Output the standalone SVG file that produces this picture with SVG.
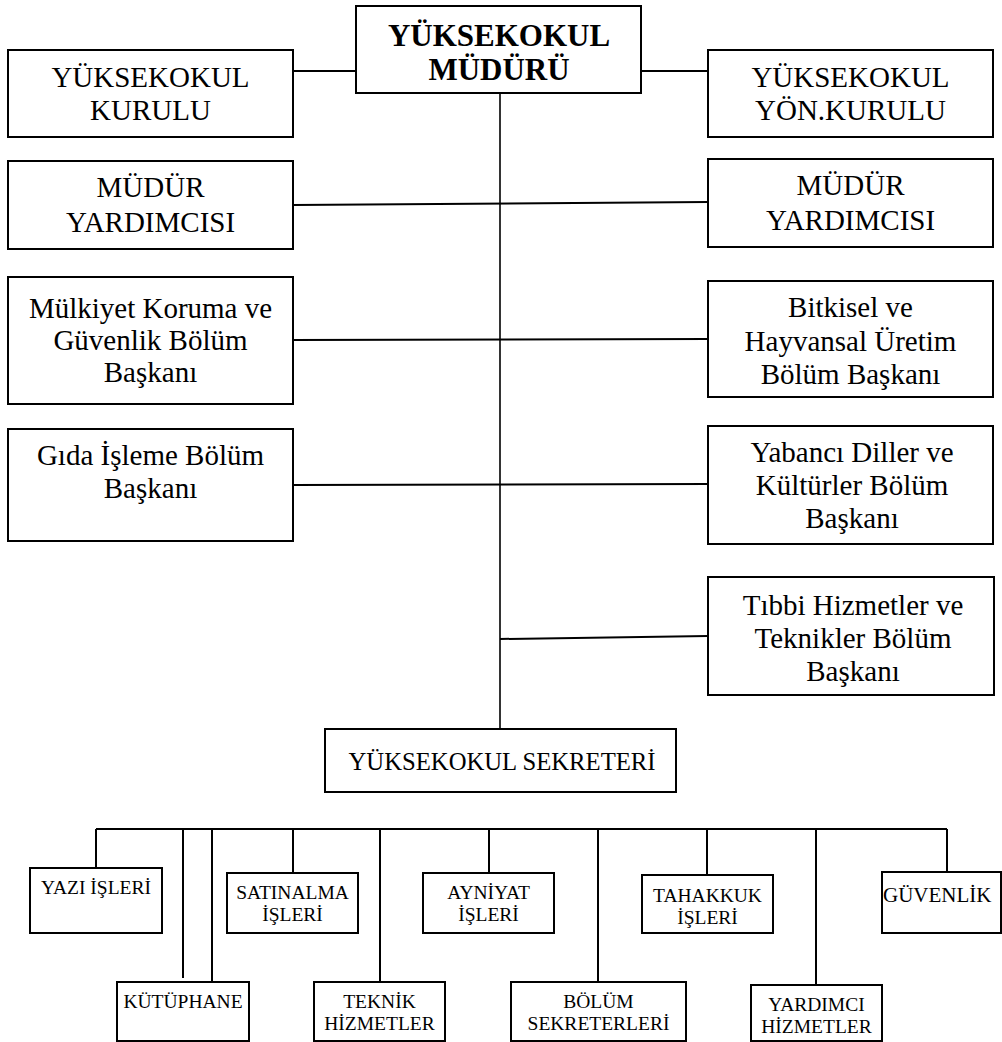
<svg xmlns="http://www.w3.org/2000/svg" width="1002" height="1042" viewBox="0 0 1002 1042">
<style>
  .box { fill: #ffffff; stroke: #000000; stroke-width: 2; }
  .ln { fill: none; stroke: #000000; stroke-width: 2; }
  .vl { fill: none; stroke: #000000; stroke-width: 1.6; }
  text { font-family: 'Liberation Serif', 'DejaVu Serif', 'Times New Roman', serif; fill: #000000; text-anchor: middle; }
  .t { font-size: 29px; }
  .tb { font-size: 31px; font-weight: bold; }
  .s { font-size: 19.5px; }
  .sek { font-size: 26px; }
  .guv { font-size: 21px; text-anchor: start; }
</style>
<rect width="1002" height="1042" fill="#ffffff"/>
<g id="connectors">
  <path class="ln" d="M293 71 H356 M641 71 H708"/>
  <path class="vl" d="M500 93 V729"/>
  <path class="ln" d="M293 205 L708 202"/>
  <path class="ln" d="M293 340 L708 339"/>
  <path class="ln" d="M293 485 L708 484"/>
  <path class="ln" d="M500 639 L708 636"/>
  <path class="ln" d="M96 829 H947"/>
  <path class="ln" d="M96 829 V868 M183 829 V978 M212 829 V982 M293 829 V873 M380 829 V982 M489 829 V873 M598 829 V982 M707 829 V875 M816 829 V985 M947 829 V872"/>
</g>
<g id="mudur">
  <rect class="box" x="356" y="6" width="285" height="87"/>
  <text class="tb" x="499" y="46">YÜKSEKOKUL</text>
  <text class="tb" x="499" y="80">MÜDÜRÜ</text>
</g>
<g id="yuksekokul-kurulu">
  <rect class="box" x="8" y="50" width="285" height="87"/>
  <text class="t" x="150.5" y="87">YÜKSEKOKUL</text>
  <text class="t" x="150.5" y="120">KURULU</text>
</g>
<g id="yon-kurulu">
  <rect class="box" x="708" y="50" width="285" height="87"/>
  <text class="t" x="850.5" y="87">YÜKSEKOKUL</text>
  <text class="t" x="850.5" y="120">YÖN.KURULU</text>
</g>
<g id="mudur-yrd-1">
  <rect class="box" x="8" y="161" width="285" height="88"/>
  <text class="t" x="150.5" y="197">MÜDÜR</text>
  <text class="t" x="150.5" y="232">YARDIMCISI</text>
</g>
<g id="mudur-yrd-2">
  <rect class="box" x="708" y="159" width="285" height="88"/>
  <text class="t" x="850.5" y="195">MÜDÜR</text>
  <text class="t" x="850.5" y="230">YARDIMCISI</text>
</g>
<g id="mulkiyet">
  <rect class="box" x="8" y="277" width="285" height="127"/>
  <text class="t" x="150.5" y="318">Mülkiyet Koruma ve</text>
  <text class="t" x="150.5" y="350">Güvenlik Bölüm</text>
  <text class="t" x="150.5" y="382">Başkanı</text>
</g>
<g id="bitkisel">
  <rect class="box" x="708" y="281" width="285" height="116"/>
  <text class="t" x="850.5" y="317">Bitkisel ve</text>
  <text class="t" x="850.5" y="351">Hayvansal Üretim</text>
  <text class="t" x="850.5" y="384">Bölüm Başkanı</text>
</g>
<g id="gida">
  <rect class="box" x="8" y="429" width="285" height="112"/>
  <text class="t" x="150.5" y="465">Gıda İşleme Bölüm</text>
  <text class="t" x="150.5" y="498">Başkanı</text>
</g>
<g id="yabanci">
  <rect class="box" x="708" y="426" width="285" height="118"/>
  <text class="t" x="852" y="462">Yabancı Diller ve</text>
  <text class="t" x="852" y="495">Kültürler Bölüm</text>
  <text class="t" x="852" y="528">Başkanı</text>
</g>
<g id="tibbi">
  <rect class="box" x="708" y="577" width="286" height="118"/>
  <text class="t" x="853" y="615">Tıbbi Hizmetler ve</text>
  <text class="t" x="853" y="648">Teknikler Bölüm</text>
  <text class="t" x="853" y="681">Başkanı</text>
</g>
<g id="sekreter">
  <rect class="box" x="325" y="729" width="351" height="63"/>
  <text class="sek" x="502" y="770" textLength="307" lengthAdjust="spacingAndGlyphs">YÜKSEKOKUL SEKRETERİ</text>
</g>
<g id="yazi-isleri">
  <rect class="box" x="30" y="868" width="132" height="65"/>
  <text class="s" x="96" y="894">YAZI İŞLERİ</text>
</g>
<g id="satinalma">
  <rect class="box" x="227" y="873" width="131" height="60"/>
  <text class="s" x="292.5" y="899">SATINALMA</text>
  <text class="s" x="292.5" y="921">İŞLERİ</text>
</g>
<g id="ayniyat">
  <rect class="box" x="423" y="873" width="131" height="60"/>
  <text class="s" x="488.5" y="899">AYNİYAT</text>
  <text class="s" x="488.5" y="921">İŞLERİ</text>
</g>
<g id="tahakkuk">
  <rect class="box" x="642" y="875" width="131" height="58"/>
  <text class="s" x="707.5" y="902">TAHAKKUK</text>
  <text class="s" x="707.5" y="924">İŞLERİ</text>
</g>
<g id="guvenlik">
  <rect class="box" x="882" y="872" width="119" height="61"/>
  <text class="guv" x="883" y="902">GÜVENLİK</text>
</g>
<g id="kutuphane">
  <rect class="box" x="117" y="982" width="132" height="59"/>
  <text class="s" x="183" y="1008">KÜTÜPHANE</text>
</g>
<g id="teknik">
  <rect class="box" x="314" y="982" width="131" height="59"/>
  <text class="s" x="379.5" y="1008">TEKNİK</text>
  <text class="s" x="379.5" y="1030">HİZMETLER</text>
</g>
<g id="bolum-sekreterleri">
  <rect class="box" x="511" y="982" width="175" height="59"/>
  <text class="s" x="598.5" y="1008">BÖLÜM</text>
  <text class="s" x="598.5" y="1030">SEKRETERLERİ</text>
</g>
<g id="yardimci">
  <rect class="box" x="751" y="985" width="131" height="56"/>
  <text class="s" x="816.5" y="1011">YARDIMCI</text>
  <text class="s" x="816.5" y="1033">HİZMETLER</text>
</g>
</svg>
